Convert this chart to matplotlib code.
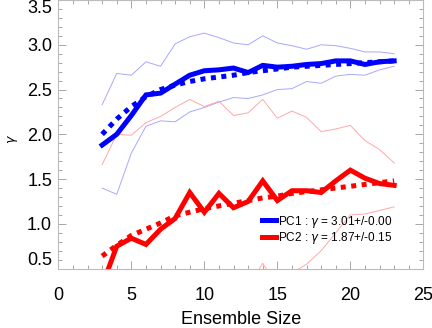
import numpy as np
import matplotlib
matplotlib.use('Agg')
import matplotlib.pyplot as plt
from matplotlib.ticker import MultipleLocator, FormatStrFormatter

plt.rcParams['font.family'] = ['Liberation Sans', 'DejaVu Sans']
plt.rcParams['mathtext.fontset'] = 'dejavusans'

# ensemble sizes
size = np.arange(3, 24)

# PC1 mean, spread and fit
pc1_mean = [1.88, 2.00, 2.21, 2.44, 2.46, 2.56, 2.66, 2.71, 2.72, 2.74, 2.69,
            2.77, 2.75, 2.76, 2.78, 2.79, 2.82, 2.82, 2.78, 2.81, 2.82]
pc1_hi = [2.33, 2.68, 2.66, 2.81, 2.76, 3.01, 3.09, 3.13, 3.08, 3.02, 3.00,
          3.10, 3.02, 2.99, 2.95, 3.00, 2.99, 2.96, 2.92, 2.92, 2.90]
pc1_lo = [1.40, 1.33, 1.79, 2.09, 2.15, 2.14, 2.25, 2.30, 2.36, 2.41, 2.40,
          2.44, 2.50, 2.51, 2.59, 2.57, 2.65, 2.67, 2.66, 2.72, 2.76]
pc1_fit = [2.00, 2.17, 2.31, 2.42, 2.50, 2.55, 2.59, 2.62, 2.64, 2.66, 2.69,
           2.71, 2.73, 2.75, 2.76, 2.77, 2.78, 2.79, 2.80, 2.81, 2.82]

# PC2 mean, spread and fit
pc2_mean = [0.31, 0.75, 0.84, 0.77, 0.94, 1.06, 1.35, 1.13, 1.34, 1.18, 1.25,
            1.48, 1.26, 1.37, 1.37, 1.35, 1.48, 1.60, 1.51, 1.45, 1.43]
pc2_hi = [1.66, 2.00, 1.99, 2.13, 2.20, 2.30, 2.39, 2.31, 2.37, 2.21, 2.24,
          2.39, 2.18, 2.26, 2.19, 2.03, 2.06, 2.10, 1.93, 1.83, 1.68]
pc2_lo = [0.05, 0.10, 0.15, 0.10, 0.20, 0.25, 0.20, 0.30, 0.25, 0.35, 0.30,
          0.56, 0.30, 0.45, 0.55, 0.70, 0.90, 1.10, 1.11, 1.15, 1.19]
pc2_fit = [0.64, 0.76, 0.87, 0.94, 1.01, 1.09, 1.13, 1.17, 1.20, 1.23, 1.26,
           1.29, 1.31, 1.34, 1.36, 1.38, 1.40, 1.42, 1.44, 1.46, 1.48]

labels = ['PC1 : $\\gamma$ = 3.01+/-0.00', 'PC2 : $\\gamma$ = 1.87+/-0.15']

fig = plt.figure(figsize=(4.32, 3.28), dpi=100)
ax = fig.add_axes([0.135, 0.181, 0.845, 0.819])

dots = (0, (1.0, 1.1))
ax.plot(size, pc1_hi, color='#a8a8ff', lw=0.7)
ax.plot(size, pc1_lo, color='#a8a8ff', lw=0.7)
ax.plot(size, pc2_hi, color='#ffa8a8', lw=0.7)
ax.plot(size, pc2_lo, color='#ffa8a8', lw=0.7)
l1, = ax.plot(size, pc1_mean, color='#0000ff', lw=3.6, solid_joinstyle='miter')
ax.plot(size, pc1_fit, color='#0000ff', lw=3.6, ls=dots, dash_capstyle='butt')
l2, = ax.plot(size, pc2_mean, color='#ff0000', lw=3.6, solid_joinstyle='miter')
ax.plot(size, pc2_fit, color='#ff0000', lw=3.6, ls=dots, dash_capstyle='butt')

ax.set_xlim(0, 25)
ax.set_ylim(0.5, 3.5)
ax.xaxis.set_major_locator(MultipleLocator(5))
ax.xaxis.set_minor_locator(MultipleLocator(1))
ax.yaxis.set_major_locator(MultipleLocator(0.5))
ax.yaxis.set_minor_locator(MultipleLocator(0.1))
ax.yaxis.set_major_formatter(FormatStrFormatter('%.1f'))

for s in ax.spines.values():
    s.set_color('#bbbbbb')
    s.set_linewidth(0.8)
ax.tick_params(which='both', direction='in', top=True, right=True,
               color='#999999', width=0.6, labelsize=13)
ax.tick_params(which='major', length=5.5)
ax.tick_params(which='minor', length=2.8)
ax.tick_params(axis='x', pad=13)
ax.tick_params(axis='y', pad=4.5)

# keep the end labels inside the frame
fig.canvas.draw()
for t in ax.get_yticklabels():
    if t.get_text() == '3.5':
        t.set_va('top')
    elif t.get_text() == '0.5':
        t.set_va('bottom')

ax.set_xlabel('Ensemble Size', fontsize=13, labelpad=5)
fig.text(0.03, 0.575, '$\\gamma$', rotation=90, fontsize=9,
         ha='center', va='center')

ax.legend([l1, l2], labels, loc='upper left', bbox_to_anchor=(0.558, 0.205),
          frameon=False, fontsize=8.5, handlelength=1.2, handletextpad=0.12,
          labelspacing=0.05, borderaxespad=0, borderpad=0)

fig.savefig('out.png', dpi=100)
